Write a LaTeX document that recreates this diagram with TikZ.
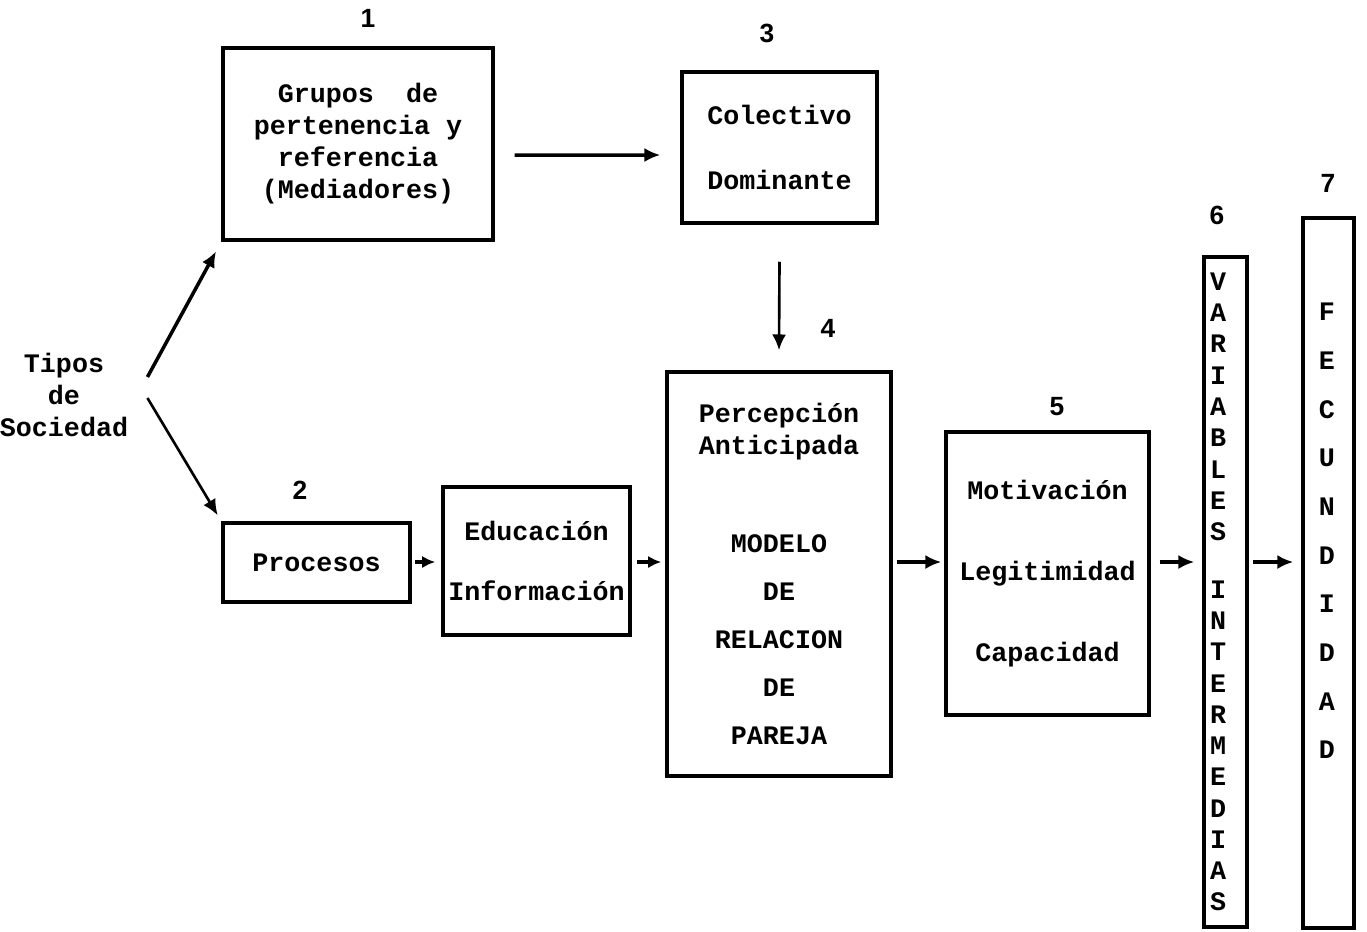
\documentclass[tikz,border=0pt]{standalone}
\usepackage{fontspec}
\usetikzlibrary{arrows.meta}
\newfontfamily\tyfont{Liberation Mono}
\newfontfamily\numfont{Liberation Sans}

\begin{document}
\begin{tikzpicture}[x=0.02cm, y=-0.02cm,
		txt/.style={align=center, inner sep=0pt,
			font=\tyfont\bfseries\fontsize{15.2}{18.2}\selectfont},
		box/.style={txt, draw, line width=2pt},
		num/.style={font=\numfont\bfseries\fontsize{15}{17}\selectfont},
		arr/.style={-{Latex[length=9pt,width=8pt]}, line width=2pt}]
	\useasboundingbox (0,0) rectangle (1367,931);
	\coordinate (row) at (0,562);
	% left column
	\node[txt] (tipos) at (64,395) {Tipos\\de\\Sociedad};
	\node[box, minimum width=5.4cm, minimum height=3.84cm] (grupos) at (358,144)
		{Grupos\ \ de\\pertenencia y\\referencia\\(Mediadores)};
	\node[box, minimum width=3.74cm, minimum height=1.58cm] (procesos) at (316.5,562.5) {Procesos};
	\node[box, minimum width=3.9cm, minimum height=3.02cm] (colectivo) at (779.5,147.5)
		{Colectivo\\[19pt]Dominante};
	\node[box, minimum width=3.74cm, minimum height=2.96cm] (educacion) at (536.5,561)
		{Educación\\[16pt]Información};
	% central boxes
	\node[box, minimum width=4.48cm, minimum height=8.08cm] (modelo) at (779,574)
		{Percepción\\Anticipada\\[37.6pt]MODELO\\[9pt]DE\\[9pt]RELACION\\[9pt]DE\\[9pt]PAREJA};
	\node[box, minimum width=4.06cm, minimum height=5.66cm] (motivacion) at (1047.5,573.5)
		{Motivación\\[28pt]Legitimidad\\[28pt]Capacidad};
	% vertical columns
	\node[box, align=left, text width=0.62cm, inner xsep=0.12cm, minimum height=13.4cm,
		font=\tyfont\bfseries\fontsize{15.2}{17.8}\selectfont] (variables) at (1225.5,592)
		{V\\A\\R\\I\\A\\B\\L\\E\\S\\[15pt]I\\N\\T\\E\\R\\M\\E\\D\\I\\A\\S};
	\node[box, minimum width=1.02cm, minimum height=14.2cm] (fecundidad) at (1328.5,573) {};
	\node[txt, font=\tyfont\bfseries\fontsize{15.2}{27.7}\selectfont] (fectexto) at (1327,531)
		{F\\E\\C\\U\\N\\D\\I\\D\\A\\D};
	% numbers
	\node[num] (n1) at (368,18) {1};
	\node[num] (n2) at (300,490) {2};
	\node[num] (n3) at (767,33) {3};
	\node[num] (n4) at (828,328) {4};
	\node[num] (n5) at (1057,407) {5};
	\node[num] (n6) at (1217,215) {6};
	\node[num] (n7) at (1328,183) {7};
	% arrows
	\draw[arr, shorten >=0.22cm] ([shift={(19,-18)}]tipos.east) -- (grupos.south west);
	\draw[arr, line width=1.5pt, shorten >=0.14cm] ([shift={(19,3)}]tipos.east) -- (procesos.north west);
	\draw[arr] ([shift={(20,11)}]grupos.east) -- ([shift={(-20,7.5)}]colectivo.west);
	\draw[arr, line width=1.5pt] ([shift={(0,37)}]colectivo.south) -- ([shift={(0,-20)}]modelo.north);
	\draw[arr, -{Latex[length=7.5pt,width=7pt]}, shorten <=0.06cm, shorten >=0.12cm]
		(procesos.east |- row) -- (educacion.west |- row);
	\draw[arr, -{Latex[length=7.5pt,width=7pt]}, shorten <=0.1cm, shorten >=0.08cm]
		(educacion.east |- row) -- (modelo.west |- row);
	\draw[arr, shorten <=0.08cm, shorten >=0.06cm] (modelo.east |- row) -- (motivacion.west |- row);
	\draw[arr, shorten <=0.18cm, shorten >=0.16cm] (motivacion.east |- row) -- (variables.west |- row);
	\draw[arr, shorten <=0.08cm, shorten >=0.16cm] (variables.east |- row) -- (fecundidad.west |- row);
\end{tikzpicture}
\end{document}
